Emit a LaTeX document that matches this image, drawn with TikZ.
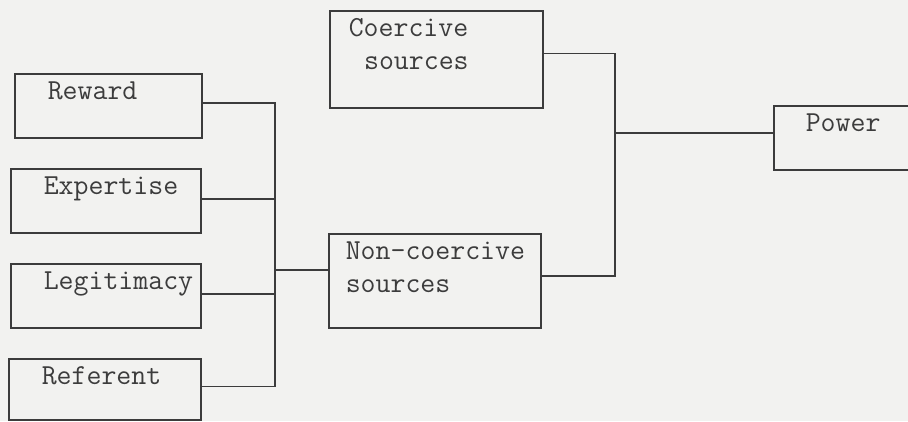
\documentclass[tikz,border=0pt]{standalone}
\usepackage{fontspec}
\usepackage{tikz}
\definecolor{ink}{HTML}{3C3C3C}
\definecolor{paper}{HTML}{F2F2F0}
\begin{document}
\begin{tikzpicture}[x=1pt, y=-1pt]
    \tikzstyle{block} = [draw=ink, text=ink, rectangle, anchor=north west, align=left, inner ysep=0pt, text height=26pt, line width=1.6pt, font={\fontsize{29pt}{32.5pt}\selectfont\ttfamily}];
    \tikzstyle{line} = [draw=ink, line width=1.6pt];
    \clip (0,0) rectangle (908,421);
    \fill[paper] (0,0) rectangle (908,421);
    % bases of power
    \node[block, text width=121pt, inner xsep=33pt, text depth=38pt] (reward) at (14,73) {Reward};
    \node[block, text width=124pt, inner xsep=33pt, text depth=38pt] (expertise) at (10,168) {Expertise};
    \node[block, text width=124pt, inner xsep=33pt, text depth=38pt] (legitimacy) at (10,263) {Legitimacy};
    \node[block, text width=126pt, inner xsep=33pt, text depth=35pt] (referent) at (8,358) {Referent};
    % sources
    \node[block, text width=175pt, inner xsep=19pt, text depth=71pt] (coercive) at (329,10) {Coercive\\\hspace*{15.3pt}sources};
    \node[block, text width=178pt, inner xsep=17pt, text depth=68pt] (noncoercive) at (328,233) {Non-coercive\\sources};
    \node[block, text width=76pt, inner xsep=32pt, text depth=38pt] (power) at (773,105) {Power};
    \coordinate (lbus) at (275,270);
    \coordinate (rbus) at (615,133);
    \tikzstyle{every path}=[line]
    \path ([yshift=3pt]reward.east) -| (lbus);
    \path ([yshift=2pt]expertise.east) -- ([yshift=2pt]expertise.east -| lbus);
    \path ([yshift=2pt]legitimacy.east) -- ([yshift=2pt]legitimacy.east -| lbus);
    \path ([yshift=3pt]referent.east) -| (lbus);
    \path (lbus) -- (lbus -| noncoercive.west);
    \path ([yshift=6pt]coercive.east) -| (rbus);
    \path ([yshift=5pt]noncoercive.east) -| (rbus);
    \path (rbus) -- (rbus -| power.west);
\end{tikzpicture}
\end{document}
